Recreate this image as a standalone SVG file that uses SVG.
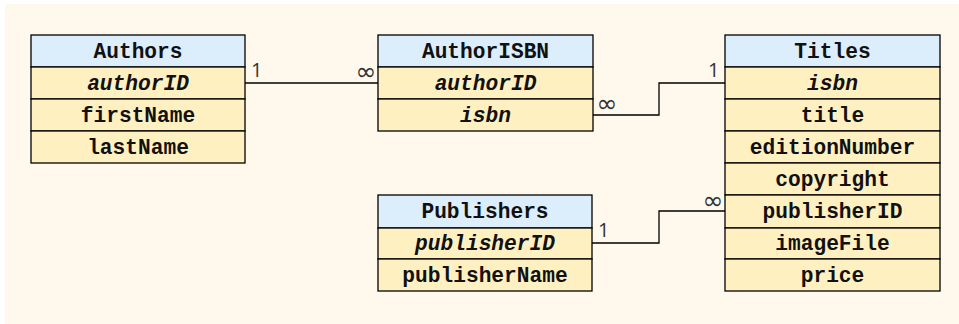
<svg xmlns="http://www.w3.org/2000/svg" width="959" height="324" viewBox="0 0 959 324">
<style>
.bg{fill:#FEF9EC}
.hd{fill:#DCEEFB;stroke:#000;stroke-width:1.3}
.rw{fill:#FFF0C1;stroke:#000;stroke-width:1.3}
.t{font-family:"Liberation Mono","Courier New",monospace;font-weight:bold;font-size:21.2px;fill:#111;text-anchor:middle}
.k{font-style:italic}
.c{fill:none;stroke:#000;stroke-width:1.3}
.m{font-family:"Open Sans","DejaVu Sans",sans-serif;font-size:20px;fill:#333}
.inf{font-family:"DejaVu Sans",sans-serif;font-size:25px;fill:#333;text-anchor:middle}
</style>
<rect class="bg" x="5" y="4" width="954" height="320"/>
<g id="connectors">
<path class="c" d="M245,83 H378"/>
<path class="c" d="M593,115 H659 V83 H725"/>
<path class="c" d="M592,243 H659 V211 H725"/>
<text class="m" x="251" y="77">1</text>
<text class="inf" x="366" y="80">∞</text>
<text class="inf" x="607" y="112">∞</text>
<text class="m" x="708" y="77">1</text>
<text class="m" x="598" y="237">1</text>
<text class="inf" x="713" y="208.5">∞</text>
</g>
<g id="authors">
<rect class="hd" x="31" y="35" width="214" height="32"/>
<rect class="rw" x="31" y="67" width="214" height="32"/>
<rect class="rw" x="31" y="99" width="214" height="32"/>
<rect class="rw" x="31" y="131" width="214" height="32"/>
<text class="t" x="138" y="58">Authors</text>
<text class="t k" x="138" y="90">authorID</text>
<text class="t" x="138" y="122">firstName</text>
<text class="t" x="138" y="154">lastName</text>
</g>
<g id="authorisbn">
<rect class="hd" x="378" y="35" width="215" height="32"/>
<rect class="rw" x="378" y="67" width="215" height="32"/>
<rect class="rw" x="378" y="99" width="215" height="32"/>
<text class="t" x="485.5" y="58">AuthorISBN</text>
<text class="t k" x="485.5" y="90">authorID</text>
<text class="t k" x="485.5" y="122">isbn</text>
</g>
<g id="titles">
<rect class="hd" x="725" y="35" width="215" height="32"/>
<rect class="rw" x="725" y="67" width="215" height="32"/>
<rect class="rw" x="725" y="99" width="215" height="32"/>
<rect class="rw" x="725" y="131" width="215" height="32"/>
<rect class="rw" x="725" y="163" width="215" height="32"/>
<rect class="rw" x="725" y="195" width="215" height="33"/>
<rect class="rw" x="725" y="228" width="215" height="31"/>
<rect class="rw" x="725" y="259" width="215" height="32"/>
<text class="t" x="832.5" y="58">Titles</text>
<text class="t k" x="832.5" y="90">isbn</text>
<text class="t" x="832.5" y="122">title</text>
<text class="t" x="832.5" y="154">editionNumber</text>
<text class="t" x="832.5" y="186">copyright</text>
<text class="t" x="832.5" y="218">publisherID</text>
<text class="t" x="832.5" y="250">imageFile</text>
<text class="t" x="832.5" y="282">price</text>
</g>
<g id="publishers">
<rect class="hd" x="378" y="195" width="214" height="33"/>
<rect class="rw" x="378" y="228" width="214" height="31"/>
<rect class="rw" x="378" y="259" width="214" height="32"/>
<text class="t" x="485" y="218">Publishers</text>
<text class="t k" x="485" y="250">publisherID</text>
<text class="t" x="485" y="282">publisherName</text>
</g>
</svg>
